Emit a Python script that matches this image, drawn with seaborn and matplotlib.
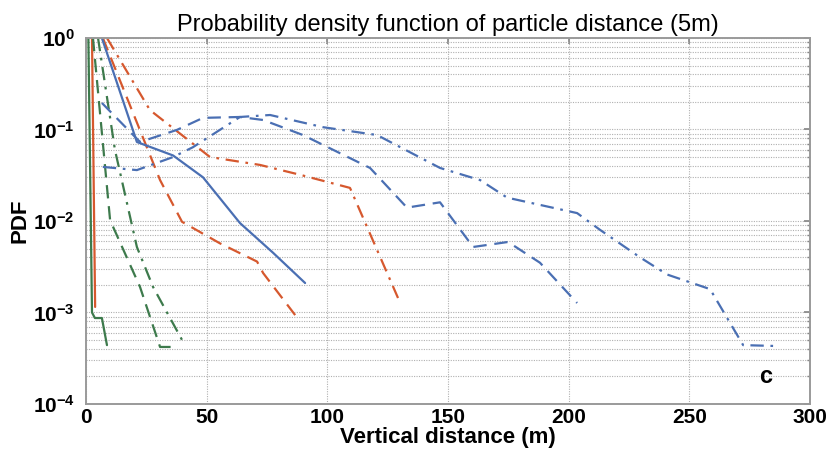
import matplotlib
matplotlib.use("Agg")
import matplotlib.pyplot as plt
import seaborn as sns
import numpy as np
import pandas as pd
from matplotlib.ticker import LogLocator, FixedLocator

sns.set_theme(style="white")
plt.rcParams['font.family'] = ['Liberation Sans', 'DejaVu Sans']
plt.rcParams['mathtext.default'] = 'regular'
plt.rcParams['text.color'] = 'black'
plt.rcParams['axes.labelcolor'] = 'black'
plt.rcParams['xtick.labelcolor'] = 'black'
plt.rcParams['ytick.labelcolor'] = 'black'

# ---- data ----
green_solid_x = [1, 2.5, 3.7, 6.6, 8.7]
green_solid_y = [1.0, 1.0e-3, 8.7e-4, 8.7e-4, 4.4e-4]

orange_solid_x = [2.5, 3.8]
orange_solid_y = [1.0, 1.15e-3]

green_dashed_x = [2.9, 10.0, 22.4, 30.7, 38.1]
green_dashed_y = [1.0, 0.0102, 0.0019, 4.2e-4, 4.2e-4]

green_dashdot_x = [5.0, 12.0, 21.1, 27.8, 40.2]
green_dashdot_y = [1.0, 0.06, 0.0052, 0.0019, 4.8e-4]

orange_dashed_x = [7.0, 30.7, 39.8, 55.5, 70.9, 73.4, 87.9]
orange_dashed_y = [1.0, 0.028, 0.0098, 0.0057, 0.0036, 0.0027, 8.5e-4]

orange_dashdot_x = [8.7, 26.5, 51.4, 72.1, 88.7, 109.4, 129.3]
orange_dashdot_y = [1.0, 0.163, 0.050, 0.041, 0.032, 0.023, 0.00144]

blue_solid_x = [6.6, 21.1, 36.1, 48.5, 63.8, 77.5, 90.8]
blue_solid_y = [1.0, 0.073, 0.052, 0.030, 0.0095, 0.0045, 0.0021]

blue_dashed_x = [6.6, 22.4, 37.7, 48.5, 63.8, 73.4, 89.9, 117.7, 133.0, 146.7,
                 160.4, 174.9, 188.1, 203.5]
blue_dashed_y = [0.195, 0.073, 0.099, 0.134, 0.137, 0.127, 0.087, 0.038, 0.014,
                 0.016, 0.0052, 0.0059, 0.0035, 0.00127]

blue_dashdot_x = [7.0, 21.1, 36.1, 44.3, 63.8, 76.3, 98.2, 120.6, 146.7, 163.3,
                  174.5, 203.5, 213.0, 229.6, 240.8, 258.6, 272.3, 286.4]
blue_dashdot_y = [0.039, 0.036, 0.050, 0.064, 0.137, 0.144, 0.106, 0.087, 0.038,
                  0.028, 0.018, 0.0122, 0.0080, 0.0040, 0.0026, 0.0018, 4.4e-4,
                  4.3e-4]

x_ticks = [0, 50, 100, 150, 200, 250, 300]

BLUE = "#4a6fb3"
ORANGE = "#d6582e"
GREEN = "#3d7a4c"

DASH = (0, (6, 3.5))
DASHDOT = (0, (6, 3, 1.2, 3))

series = [
    (green_solid_x, green_solid_y, GREEN, "-"),
    (orange_solid_x, orange_solid_y, ORANGE, "-"),
    (green_dashed_x, green_dashed_y, GREEN, DASH),
    (green_dashdot_x, green_dashdot_y, GREEN, DASHDOT),
    (orange_dashed_x, orange_dashed_y, ORANGE, DASH),
    (orange_dashdot_x, orange_dashdot_y, ORANGE, DASHDOT),
    (blue_solid_x, blue_solid_y, BLUE, "-"),
    (blue_dashed_x, blue_dashed_y, BLUE, DASH),
    (blue_dashdot_x, blue_dashdot_y, BLUE, DASHDOT),
]

fig = plt.figure(figsize=(8.33, 4.55), dpi=100)
ax = fig.add_axes([0.1032, 0.1121, 0.8692, 0.8044])

for xs, ys, col, ls in series:
    df = pd.DataFrame({"x": xs, "y": ys})
    sns.lineplot(data=df, x="x", y="y", ax=ax, color=col, linestyle=ls,
                 linewidth=1.6, sort=False, estimator=None)

ax.set_yscale("log")
ax.set_xlim(0, 300)
ax.set_ylim(1e-4, 1)
ax.xaxis.set_major_locator(FixedLocator(x_ticks))
ax.yaxis.set_major_locator(LogLocator(base=10, numticks=10))
ax.yaxis.set_minor_locator(LogLocator(base=10, subs=np.arange(2, 10), numticks=20))

ax.grid(True, which="major", axis="both", color="#b0b0b0", linestyle=(0, (1, 1.2)), linewidth=0.8)
ax.grid(True, which="minor", axis="y", color="#b0b0b0", linestyle=(0, (1, 1.2)), linewidth=0.8)

ax.tick_params(which="both", direction="in", top=True, right=True, length=4,
               color="#888888")
ax.tick_params(which="minor", length=2)
ax.tick_params(axis="both", which="major", labelsize=15, labelcolor="black")
ax.tick_params(axis="x", which="major", pad=3)
ax.tick_params(axis="y", which="major", pad=8)
for lab in ax.get_xticklabels() + ax.get_yticklabels():
    lab.set_fontweight("bold")

for sp in ax.spines.values():
    sp.set_color("#9a9a9a")
    sp.set_linewidth(1.4)

ax.set_title("Probability density function of particle distance (5m)", fontsize=17,
             pad=5, color="black")
ax.set_xlabel("Vertical distance (m)", fontsize=16, fontweight="bold", labelpad=0,
              color="black")
ax.set_ylabel("PDF", fontsize=16, fontweight="bold", labelpad=2, color="black")
ax.text(0.93, 0.045, "c", transform=ax.transAxes, fontsize=17, fontweight="bold",
        ha="left", va="bottom", color="black")

fig.savefig("out.png", dpi=100)
